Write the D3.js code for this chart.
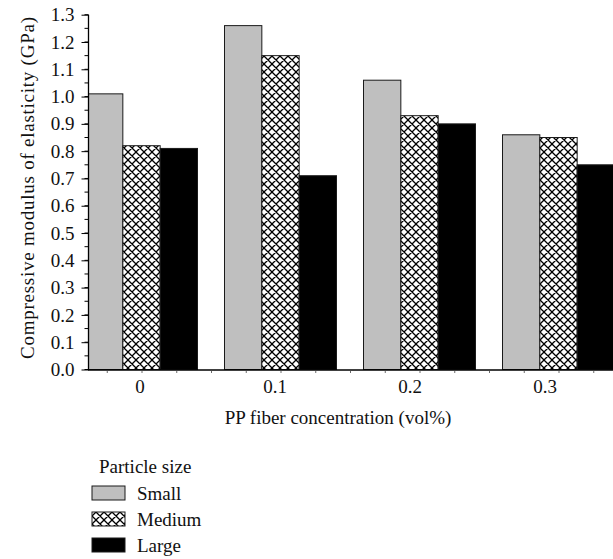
<!DOCTYPE html>
<html><head><meta charset="utf-8">
<script src="https://cdn.jsdelivr.net/npm/d3@7"></script>
<style>
html,body{margin:0;padding:0;background:#fff;}
svg text{font-family:"Liberation Serif","DejaVu Serif",serif !important;}
</style></head>
<body><svg id="c" width="613" height="559"></svg>
<script>
const categories = ["0", "0.1", "0.2", "0.3"];
const seriesNames = ["Small", "Medium", "Large"];
const smallVals = [1.01, 1.26, 1.06, 0.86];
const mediumVals = [0.82, 1.15, 0.93, 0.85];
const largeVals = [0.81, 0.71, 0.90, 0.75];
const yTicks = [0.0,0.1,0.2,0.3,0.4,0.5,0.6,0.7,0.8,0.9,1.0,1.1,1.2,1.3];
const xTitle = "PP fiber concentration (vol%)";
const yTitle = "Compressive modulus of elasticity (GPa)";
const legendTitle = "Particle size";

const series = [smallVals, mediumVals, largeVals];
const fills = ["#bfbfbf", "url(#hatch)", "#000"];
const FS = 19;

const svg = d3.select("#c");
const defs = svg.append("defs");
const pat = defs.append("pattern").attr("id","hatch").attr("patternUnits","userSpaceOnUse")
  .attr("width",8).attr("height",8);
pat.append("rect").attr("width",8).attr("height",8).attr("fill","#fff");
pat.append("path").attr("d","M-1,-1L9,9M-1,9L9,-1M-1,7L1,9M7,-1L9,1M7,9L9,7M-1,1L1,-1")
  .attr("stroke","#000").attr("stroke-width",1.3);

const y = d3.scaleLinear().domain([0,1.3]).range([369.5,14.7]);
const xLin = d3.scaleLinear().domain([0,3]).range([141.5,558.5]);
const xLab = d3.scalePoint().domain(categories).range([140,545]);
const groupW = 112;
const xSub = d3.scaleBand().domain(seriesNames).range([-groupW/2, groupW/2]);

const plot = svg.append("g");
plot.append("clipPath").attr("id","clip").append("rect").attr("x",88).attr("y",0).attr("width",525).attr("height",370);

const gBars = plot.append("g").attr("clip-path","url(#clip)");
series.forEach((vals, si) => {
  gBars.selectAll(null).data(vals).enter().append("rect")
    .attr("x",(d,i)=>xLin(i)+xSub(seriesNames[si]))
    .attr("width",xSub.bandwidth())
    .attr("y",d=>y(d))
    .attr("height",d=>y(0)-y(d))
    .attr("fill",fills[si])
    .attr("stroke","#1a1a1a").attr("stroke-width",1);
});

// y axis
const yAxisG = svg.append("g").attr("transform","translate(88.5,0)");
const minor = d3.range(0,1.3001,0.05);
yAxisG.selectAll(".mt").data(minor).enter().append("line")
  .attr("x1",-4).attr("x2",0).attr("y1",d=>y(d)).attr("y2",d=>y(d))
  .attr("stroke","#000").attr("stroke-width",1);
const yAxis = d3.axisLeft(y).tickValues(yTicks).tickFormat(d3.format(".1f")).tickSize(7).tickPadding(7);
yAxisG.call(yAxis);
yAxisG.attr("font-family",null).attr("font-size",null);
yAxisG.select(".domain").attr("stroke","#000").attr("stroke-width",1.3).attr("d",`M0,${y(1.3)}V${y(0)}`);
yAxisG.selectAll(".tick line").attr("stroke","#000").attr("stroke-width",1);
yAxisG.selectAll(".tick text").attr("font-size",FS).attr("fill","#111");

// x axis (minor ticks)
const xAxisG = svg.append("g").attr("transform","translate(0,370)");
const xAxis = d3.axisBottom(xLin).tickValues(d3.range(-0.25,3.26,0.25)).tickFormat("").tickSize(3);
xAxisG.call(xAxis);
xAxisG.select(".domain").attr("stroke","#000").attr("stroke-width",1.3).attr("d","M88,0H613");
xAxisG.selectAll(".tick line").attr("stroke","#444").attr("stroke-width",0.8);

// x category labels
svg.append("g").selectAll("text").data(categories).enter().append("text")
  .attr("x",d=>xLab(d)).attr("y",393).attr("text-anchor","middle")
  .attr("font-size",FS).attr("fill","#111").text(d=>d);

svg.append("text").attr("x",338).attr("y",424).attr("text-anchor","middle")
  .attr("font-size",FS).attr("fill","#111").text(xTitle);

svg.append("text").attr("transform","translate(34,188) rotate(-90)").attr("text-anchor","middle")
  .attr("font-size",FS).attr("fill","#111")
  .attr("textLength",342).attr("lengthAdjust","spacing").text(yTitle);

// legend
const leg = svg.append("g");
leg.append("text").attr("x",99).attr("y",473).attr("font-size",FS).attr("fill","#111").text(legendTitle);
const rows = leg.selectAll(".row").data(seriesNames).enter().append("g")
  .attr("transform",(d,i)=>`translate(0,${486+i*26})`);
rows.append("rect").attr("x",92).attr("y",0).attr("width",33).attr("height",14)
  .attr("fill",(d,i)=>fills[i]).attr("stroke","#1a1a1a").attr("stroke-width",1);
rows.append("text").attr("x",137).attr("y",13.5).attr("font-size",FS).attr("fill","#111").text(d=>d);
</script></body></html>
